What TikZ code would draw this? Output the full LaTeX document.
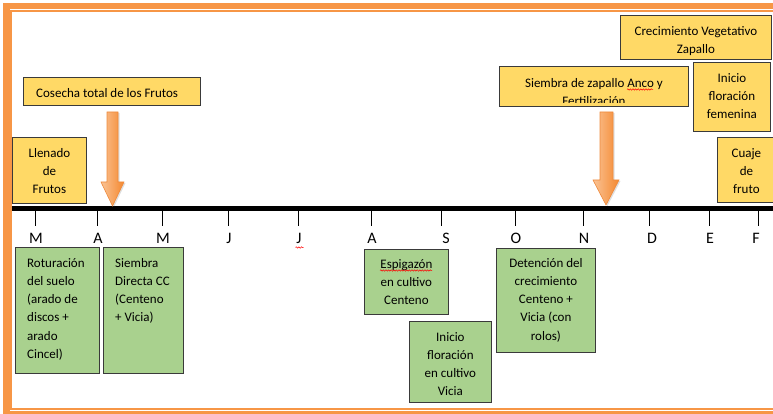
\documentclass[tikz,border=0pt]{standalone}
\usepackage{fontspec}
\setmainfont{Carlito}
\usetikzlibrary{calc,decorations.pathmorphing,shadows}
\definecolor{frameor}{HTML}{F79646}
\definecolor{yfill}{HTML}{FFD966}
\definecolor{gfill}{HTML}{A9D18E}
\definecolor{bxline}{HTML}{3A3A3A}
\definecolor{arrL}{HTML}{FAC395}
\definecolor{arrR}{HTML}{F4882F}
\definecolor{arrD}{HTML}{EE8A3C}
\begin{document}
\begin{tikzpicture}[x=1pt,y=-1pt,
  ybox/.style={draw=bxline,fill=yfill,line width=0.8pt,inner sep=0pt,anchor=north west},
  gbox/.style={draw=bxline,fill=gfill,line width=0.8pt,inner sep=0pt,anchor=north west},
  btxt/.style={inner sep=0pt,font=\fontsize{13}{18.3}\selectfont,text=black},
  mon/.style={inner sep=0pt,font=\fontsize{16}{18}\selectfont,anchor=base},
  bigarrow/.style={left color=arrL,right color=arrR,draw=arrD,line width=0.6pt,
     drop shadow={shadow xshift=1.5pt,shadow yshift=-1pt,opacity=0.25}},
  squig/.style={draw=red,line width=0.5pt,decorate,decoration={snake,amplitude=0.7pt,segment length=2.6pt}}]
\useasboundingbox (0,0) rectangle (773,414);
\clip (0,0) rectangle (773,414);
% frame
\draw[frameor,line width=6.5pt] (6.5,6) rectangle (790,414);
\draw[frameor,line width=1.5pt] (11.2,10.8) rectangle (800,408.8);
% timeline
\coordinate (tl0) at (12,208.5);
\coordinate (tl1) at (773,208.5);
\draw[line width=5pt] (tl0) -- (tl1);
\foreach \tx/\lx/\m [count=\i] in {35/36/M,97/98/A,162/163/M,228/229/J,298/299/J,371/372/A,441/446/S,515/516/O,583/584/N,649/652/D,709/710/E,758/756/F}{
  \draw[line width=0.8pt] (\tx,211) -- (\tx,226);
  \node[mon] (m\i) at (\lx,243) {\m};
}
\draw[squig] (295.5,247.5) -- (303.5,247.5);
% arrows
\path[bigarrow] (107,112) -- (118,112) -- (118,182) -- (124,182) -- (112.5,206) -- (101,182) -- (107,182) -- cycle;
\path[bigarrow] (600,112) -- (613,112) -- (613,180) -- (619,180) -- (606,205) -- (593,180) -- (600,180) -- cycle;
% yellow boxes
\node[ybox,minimum width=74pt,minimum height=66pt] (llen) at (12,137) {};
\node[btxt,anchor=north,align=center] (llent) at ($(llen.north)+(0,7)$) {\strut Llenado\\de\\Frutos};
\node[ybox,minimum width=177pt,minimum height=28pt] (cos) at (23,77) {};
\node[btxt,anchor=north west] (cost) at (36,84) {\strut Cosecha total de los Frutos};
\node[ybox,minimum width=189pt,minimum height=40pt] (siem) at (499,66.5) {};
\begin{scope}
\clip (499,66) rectangle (688,102.8);
\node[btxt,anchor=north,align=center] (siemt) at ($(siem.north)+(0,7.6)$) {\strut Siembra de zapallo Anco y\\Fertilización};
\end{scope}
\draw[squig] (627,89.5) -- (653,89.5);
\node[ybox,minimum width=151pt,minimum height=44pt] (crec) at (620,15) {};
\node[btxt,anchor=north,align=center] (crect) at ($(crec.north)+(0,7)$) {\strut Crecimiento Vegetativo\\Zapallo};
\node[ybox,minimum width=77pt,minimum height=69pt] (inif) at (693,62) {};
\node[btxt,anchor=north,align=center] (inift) at ($(inif.north)+(0,7)$) {\strut Inicio\\floración\\femenina};
\node[ybox,minimum width=58pt,minimum height=65pt] (cuaj) at (717,137) {};
\node[btxt,anchor=north,align=center] (cuajt) at ($(cuaj.north)+(0,7)$) {\strut Cuaje\\de\\fruto};
% green boxes
\node[gbox,minimum width=84pt,minimum height=126pt] (rot) at (15,247) {};
\node[btxt,anchor=north west,align=left] (rott) at (27,254) {\strut Roturación\\del suelo\\(arado de\\discos +\\arado\\Cincel)};
\node[gbox,minimum width=80pt,minimum height=126pt] (sd) at (103,247) {};
\node[btxt,anchor=north west,align=left] (sdt) at (115,254) {\strut Siembra\\Directa CC\\(Centeno\\+ Vicia)};
\node[gbox,minimum width=84pt,minimum height=65pt] (esp) at (364,249) {};
\node[btxt,anchor=north,align=center] (espt) at ($(esp.north)+(0,6)$) {\strut Espigazón\\en cultivo\\Centeno};
\draw[squig] (380,270.5) -- (432,270.5);
\node[gbox,minimum width=82pt,minimum height=81pt] (ifv) at (409,321) {};
\node[btxt,anchor=north,align=center] (ifvt) at ($(ifv.north)+(0,7)$) {\strut Inicio\\floración\\en cultivo\\Vicia};
\node[gbox,minimum width=99pt,minimum height=104pt] (det) at (496,248) {};
\node[btxt,anchor=north,align=center] (dett) at ($(det.north)+(0,6)$) {\strut Detención del\\crecimiento\\Centeno +\\Vicia (con\\rolos)};
\end{tikzpicture}
\end{document}
